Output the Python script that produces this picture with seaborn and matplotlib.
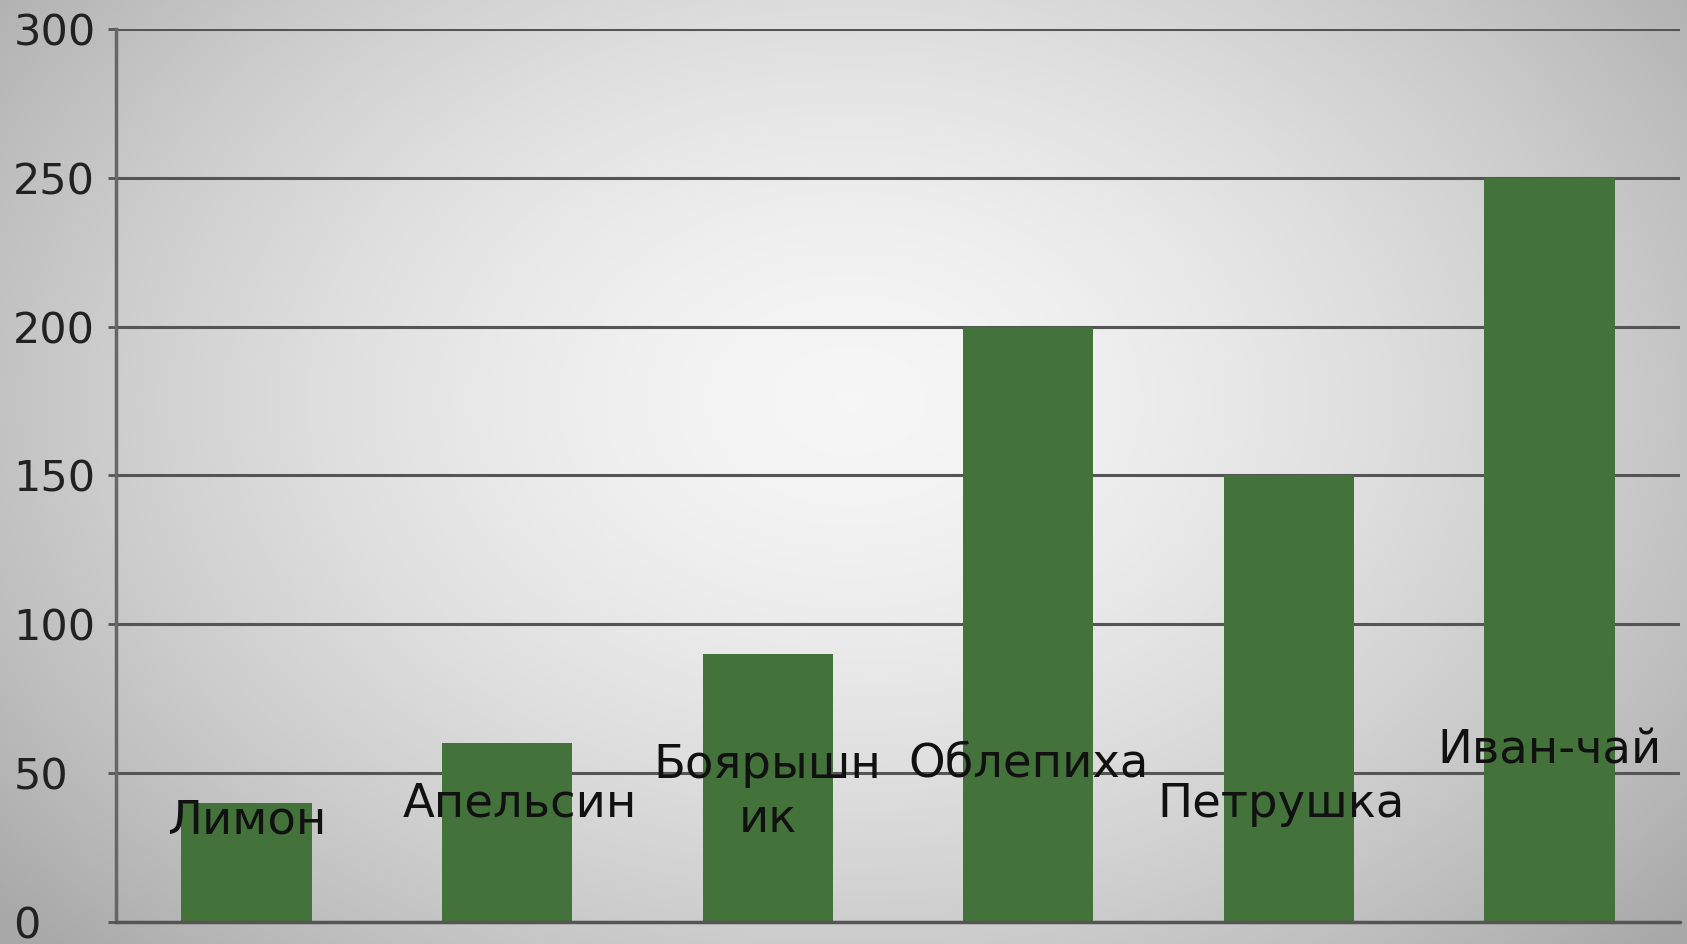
import numpy as np
import pandas as pd
import matplotlib
matplotlib.use("Agg")
import matplotlib.pyplot as plt
import seaborn as sns

categories = ["Лимон", "Апельсин", "Боярышник", "Облепиха", "Петрушка", "Иван-чай"]
values = [40, 60, 90, 200, 150, 250]
label_texts = ["Лимон", "Апельсин", "Боярышн\nик", "Облепиха", "Петрушка", "Иван-чай"]
label_y = [34, 39.5, 43.5, 53, 39.5, 57.5]
label_dx = [0.0, 0.05, 0.0, 0.0, -0.03, 0.0]
yticks = [0, 50, 100, 150, 200, 250, 300]

sns.set_theme(style="white")
plt.rcParams["font.family"] = ["DejaVu Sans"]

W, H = 1687, 944
fig = plt.figure(figsize=(W / 100, H / 100), dpi=100)

# radial gradient background
bg = fig.add_axes([0, 0, 1, 1], zorder=0)
yy, xx = np.mgrid[0:H, 0:W]
cx, cy = 850, 400
r = np.sqrt(((xx - cx) / 1000.0) ** 2 + ((yy - cy) / 720.0) ** 2)
shade = 0.965 - 0.26 * np.clip(r, 0, 1.3) ** 1.6
shade = np.clip(shade, 0.66, 1.0)
bg.imshow(np.dstack([shade] * 3), aspect="auto", extent=[0, 1, 0, 1])
bg.set_axis_off()

ax = fig.add_axes([116 / W, 22 / H, (1680 - 116) / W, (922 - 29) / H], zorder=1)
ax.patch.set_alpha(0)

df = pd.DataFrame({"cat": categories, "val": values})
sns.barplot(data=df, x="cat", y="val", color="#43723A", saturation=1,
            width=0.5, ax=ax, zorder=3, linewidth=0, edgecolor="none")

ax.set_xlim(-0.5, 5.5)
ax.set_ylim(0, 300)
ax.set_yticks(yticks)
ax.set_yticklabels([str(t) for t in yticks])
ax.yaxis.grid(True, color="#555555", linewidth=2.2, zorder=1)
ax.set_axisbelow(True)
ax.set_xticks([])
ax.set_xlabel("")
ax.set_ylabel("")

for s in ["top", "right", "bottom"]:
    ax.spines[s].set_visible(False)
ax.spines["left"].set_color("#666666")
ax.spines["left"].set_linewidth(2.5)

ax.tick_params(axis="y", which="both", left=True, length=6, width=2,
               color="#555555", pad=68, labelsize=31, labelcolor="#222222")
for lab in ax.get_yticklabels():
    lab.set_horizontalalignment("left")

# bottom baseline (extends to tick)
ax.axhline(0, color="#555555", linewidth=2.5, zorder=4, clip_on=False)

for i, (txt, y) in enumerate(zip(label_texts, label_y)):
    ax.text(i + label_dx[i], y, txt, ha="center", va="center", fontsize=33.5,
            color="#111111", zorder=5, linespacing=1.25)

fig.savefig("out.png", dpi=100)
